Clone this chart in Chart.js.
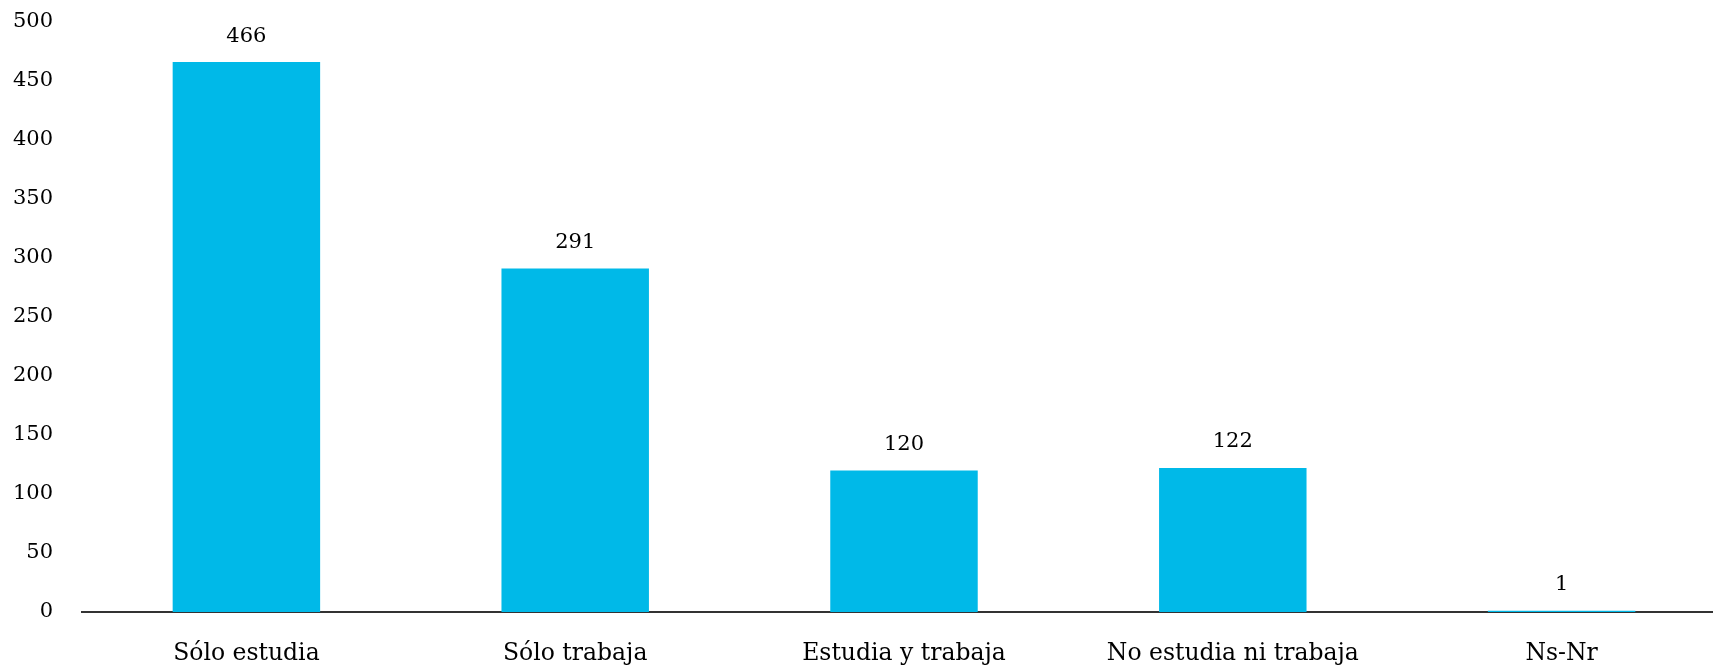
<!DOCTYPE html>
<html><head><meta charset="utf-8">
<script src="https://cdn.jsdelivr.net/npm/chart.js@4"></script>
<style>html,body{margin:0;padding:0;background:#fff;overflow:hidden;width:1713px;height:665px}#wrap{width:1726px;height:665px}</style>
</head><body><div id="wrap"><canvas id="c"></canvas></div>
<script>
const categories = ["Sólo estudia", "Sólo trabaja", "Estudia y trabaja", "No estudia ni trabaja", "Ns-Nr"];
const values = [466, 291, 120, 122, 1];
const yTicks = [0, 50, 100, 150, 200, 250, 300, 350, 400, 450, 500];

const FONT = "'DejaVu Serif', serif";
const labelPlugin = {
  id: 'lbl',
  afterDatasetsDraw(chart) {
    const ctx = chart.ctx;
    const meta = chart.getDatasetMeta(0);
    ctx.save();
    ctx.font = "21px " + FONT;
    ctx.fillStyle = "#000";
    ctx.textAlign = "center";
    ctx.textBaseline = "middle";
    meta.data.forEach((bar, i) => {
      ctx.fillText(String(values[i]), bar.x, bar.y - 26);
    });
    ctx.restore();
  }
};
new Chart(document.getElementById('c'), {
  type: 'bar',
  data: { labels: categories, datasets: [{ data: values, backgroundColor: '#00B9E8', categoryPercentage: 1, barPercentage: 0.4485 }] },
  options: {
    responsive: true, maintainAspectRatio: false, animation: false,
    layout: { padding: { top: 22, right: 0, bottom: 0, left: 0 } },
    plugins: { legend: { display: false }, tooltip: { enabled: false } },
    scales: {
      x: {
        afterFit(s) { s.height = 53; s.paddingLeft = 0; s.paddingRight = 0; },
        grid: { display: false },
        border: { display: true, color: '#333', width: 2 },
        ticks: { color: '#000', font: { family: FONT, size: 23.5 }, padding: 20 }
      },
      y: {
        min: 0, max: 500,
        afterBuildTicks(s) { s.ticks = yTicks.map(v => ({ value: v })); },
        afterFit(s) { s.width = 82; s.paddingTop = 0; s.paddingBottom = 0; },
        grid: { display: false },
        border: { display: false },
        ticks: { color: '#000', font: { family: FONT, size: 21 }, padding: 21 }
      }
    }
  },
  plugins: [labelPlugin]
});
</script></body></html>
